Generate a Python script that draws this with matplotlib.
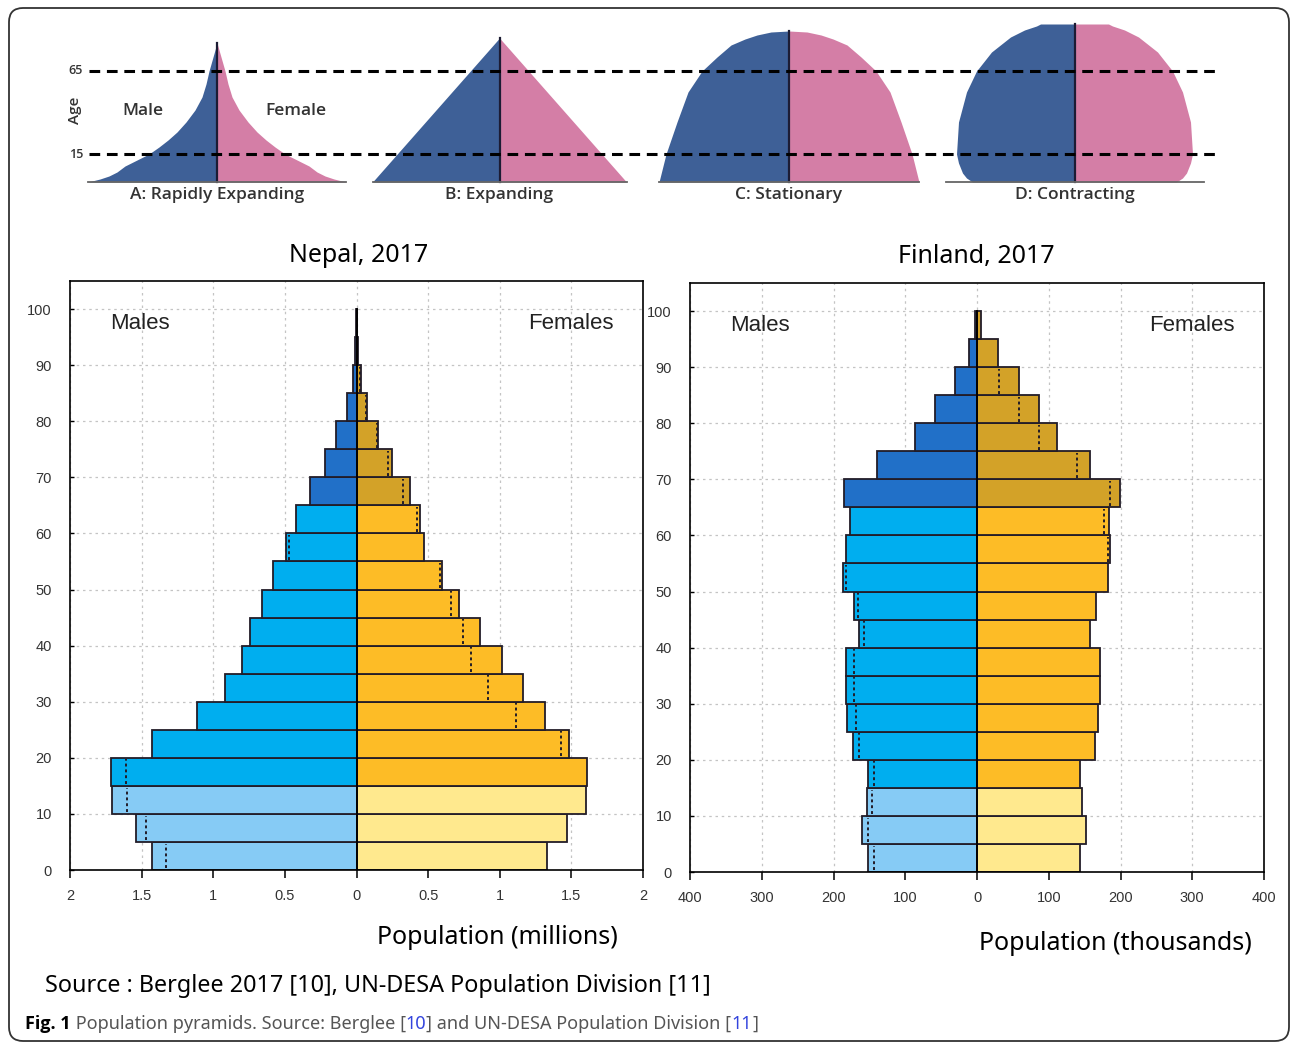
import numpy as np
import matplotlib.pyplot as plt
from matplotlib import font_manager
from matplotlib.patches import FancyBboxPatch

W, H = 1292, 1044

installed = {f.name for f in font_manager.fontManager.ttflist}
TICK_FONT = 'Liberation Sans Narrow' if 'Liberation Sans Narrow' in installed else 'Liberation Sans'
BIG_FONT = 'Noto Sans'
SCHEM_FONT = 'Open Sans'

# ---- data ----
age_lo = [0, 5, 10, 15, 20, 25, 30, 35, 40, 45, 50, 55, 60, 65, 70, 75, 80, 85, 90, 95]

# Nepal 2017, millions (0-4 ... 95-99)
nepal_m = [1.43, 1.54, 1.705, 1.715, 1.425, 1.11, 0.915, 0.80, 0.74, 0.66,
           0.58, 0.49, 0.42, 0.325, 0.22, 0.14, 0.068, 0.025, 0.008, 0.002]
nepal_f = [1.33, 1.47, 1.60, 1.61, 1.48, 1.315, 1.165, 1.015, 0.865, 0.715,
           0.60, 0.47, 0.445, 0.375, 0.25, 0.15, 0.074, 0.032, 0.012, 0.003]

# Finland 2017, thousands
fin_m = [152, 160, 153, 152, 173, 181, 183, 183, 164, 171,
         187, 183, 177, 185, 139, 87, 58, 31, 11, 3]
fin_f = [144, 152, 146, 144, 165, 169, 171, 172, 157, 166,
         183, 185, 184, 199, 157, 111, 87, 59, 29, 6]

nepal_ticks = [-2, -1.5, -1, -0.5, 0, 0.5, 1, 1.5, 2]
nepal_ticklabels = ['2', '1.5', '1', '0.5', '0', '0.5', '1', '1.5', '2']
fin_ticks = [-400, -300, -200, -100, 0, 100, 200, 300, 400]
fin_ticklabels = ['400', '300', '200', '100', '0', '100', '200', '300', '400']
age_ticks = [0, 10, 20, 30, 40, 50, 60, 70, 80, 90, 100]

# schematic pyramids: (height above base, half width) profiles
schem_labels = ['A: Rapidly Expanding', 'B: Expanding', 'C: Stationary', 'D: Contracting']
schem_h = [[0, 3, 6, 10, 16, 22, 28, 35, 42, 50, 60, 72, 85, 98, 111, 125, 139],
           [0, 144],
           [0, 28, 60, 90, 111, 125, 137, 143, 147, 150, 151],
           [0, 4, 9, 19, 28, 60, 90, 111, 130, 145, 152, 156, 158]]
schem_w = [[129, 117, 108, 100, 92, 80, 68, 58, 49, 40, 31, 22, 15, 11, 8, 4, 0],
           [127, 0],
           [130, 123, 112, 101, 87, 72, 58, 44, 32, 18, 0],
           [102, 108, 112, 116, 118, 116, 108, 98, 83, 64, 50, 38, 34]]
schem_base = [129, 127, 130, 129]
schem_x = [217, 499.5, 789, 1074.5]
age_lines = [28, 111]
age_line_labels = ['15', '65']

# colours: 0-14, 15-64, 65+
male_cols = ['#86cbf5', '#00aeef', '#2170c8']
female_cols = ['#ffe98e', '#fdbc26', '#d3a228']
EDGE = '#221c28'


def band(a):
    return 0 if a < 15 else (1 if a < 65 else 2)


fig = plt.figure(figsize=(W / 100, H / 100), dpi=100)

# outer rounded frame
bg = fig.add_axes([0, 0, 1, 1])
bg.set_xlim(0, W)
bg.set_ylim(H, 0)
bg.axis('off')
bg.add_patch(FancyBboxPatch((9, 8), 1280, 1033, boxstyle='round,pad=0,rounding_size=14',
                            fc='none', ec='#333333', lw=1.3))

# ---- top schematic ----
top = fig.add_axes([0, 1 - 230 / H, 1, 230 / H])
top.set_xlim(0, W)
top.set_ylim(-48, 182)
top.axis('off')
for i in range(4):
    c = schem_x[i]
    h = np.array(schem_h[i])
    w = np.array(schem_w[i])
    top.fill_betweenx(h, c - w, c, color='#3e6097', lw=0)
    top.fill_betweenx(h, c, c + w, color='#d47ea6', lw=0)
    top.plot([c, c], [0, h[-1]], color='#1c1c34', lw=1.6)
    top.plot([c - schem_base[i], c + schem_base[i]], [0, 0], color='#666666', lw=1.3)
    top.text(c, -13, schem_labels[i], ha='center', va='center', fontsize=12.5,
             family=SCHEM_FONT, color='#333333', weight='semibold')
for y, lab in zip(age_lines, age_line_labels):
    top.plot([89, 1220], [y, y], color='black', lw=2.2, ls=(0, (3.5, 2.2)))
    top.text(83, y, lab, ha='right', va='center', fontsize=9, family=SCHEM_FONT,
             color='#333333', weight='semibold')
top.text(75, 72, 'Age', rotation=90, ha='center', va='center', fontsize=11,
         family=SCHEM_FONT, color='#333333', weight='semibold')
top.text(143, 71, 'Male', ha='center', va='center', fontsize=12.5, family=SCHEM_FONT,
         color='#333333', weight='semibold')
top.text(296, 71, 'Female', ha='center', va='center', fontsize=12.5, family=SCHEM_FONT,
         color='#333333', weight='semibold')


# ---- pyramids ----
def pyramid(rect, males, females, xmax, ticks, ticklabels):
    ax = fig.add_axes(rect)
    mc = [male_cols[band(a)] for a in age_lo]
    fc = [female_cols[band(a)] for a in age_lo]
    ax.barh(age_lo, [-v for v in males], height=5, align='edge', color=mc,
            edgecolor=EDGE, lw=1.3, zorder=2)
    ax.barh(age_lo, females, height=5, align='edge', color=fc,
            edgecolor=EDGE, lw=1.3, zorder=2)
    # dotted marks: the smaller sex mirrored inside the larger bar
    for a, m, f in zip(age_lo, males, females):
        if a >= 90:
            continue
        x = -f if m > f else m
        ax.plot([x, x], [a + 0.3, a + 4.7], color=EDGE, lw=1.4, ls=(0, (1.5, 1.5)), zorder=3)
    ax.plot([0, 0], [0, 100], color='black', lw=1.3, zorder=4)
    ax.set_xlim(-xmax, xmax)
    ax.set_ylim(0, 105)
    ax.set_xticks(ticks)
    ax.set_xticklabels(ticklabels)
    ax.set_yticks(age_ticks)
    ax.grid(True, color='#c4c4c4', lw=0.9, ls=(0, (2, 3)))
    ax.set_axisbelow(True)
    ax.tick_params(axis='x', direction='out', length=6, width=1.1, pad=8,
                   labelsize=10.5, labelcolor='#333333')
    ax.tick_params(axis='y', direction='in', length=3, width=1, pad=13,
                   labelsize=10.5, labelcolor='#333333')
    for lab in ax.get_xticklabels() + ax.get_yticklabels():
        lab.set_family(TICK_FONT)
    for s in ax.spines.values():
        s.set_linewidth(1.2)
    ax.text(0.07, 0.928, 'Males', transform=ax.transAxes, ha='left', va='center',
            fontsize=16, family='Liberation Sans', color='#222222')
    ax.text(0.949, 0.928, 'Females', transform=ax.transAxes, ha='right', va='center',
            fontsize=16, family='Liberation Sans', color='#222222')
    return ax


pyramid([70 / W, 1 - 870 / H, 573 / W, 589 / H], nepal_m, nepal_f, 2, nepal_ticks, nepal_ticklabels)
pyramid([690 / W, 1 - 872 / H, 574 / W, 589 / H], fin_m, fin_f, 400, fin_ticks, fin_ticklabels)

fig.text(359 / W, 1 - 255 / H, 'Nepal, 2017', ha='center', va='center', fontsize=18, family=BIG_FONT)
fig.text(976 / W, 1 - 257 / H, 'Finland, 2017', ha='center', va='center', fontsize=18, family=BIG_FONT)
fig.text(497 / W, 1 - 938 / H, 'Population (millions)', ha='center', va='center', fontsize=18, family=BIG_FONT)
fig.text(1115 / W, 1 - 944 / H, 'Population (thousands)', ha='center', va='center', fontsize=18, family=BIG_FONT)
fig.text(45 / W, 1 - 986 / H, 'Source : Berglee 2017 [10], UN-DESA Population Division [11]',
         ha='left', va='center', fontsize=16.8, family=BIG_FONT)

# caption with mixed colours
renderer = fig.canvas.get_renderer()
pieces = [('Fig. 1', 'black', 'bold'), (' Population pyramids. Source: Berglee [', '#555555', 'normal'),
          ('10', '#3344dd', 'normal'), ('] and UN-DESA Population Division [', '#555555', 'normal'),
          ('11', '#3344dd', 'normal'), (']', '#555555', 'normal')]
x = 25 / W
for txt, col, wt in pieces:
    t = fig.text(x, 1 - 1024 / H, txt, ha='left', va='center', fontsize=13,
                 family=SCHEM_FONT if wt == 'bold' else BIG_FONT, color=col, weight=wt)
    x = t.get_window_extent(renderer=renderer).x1 / W

fig.savefig('out.png', dpi=100)
